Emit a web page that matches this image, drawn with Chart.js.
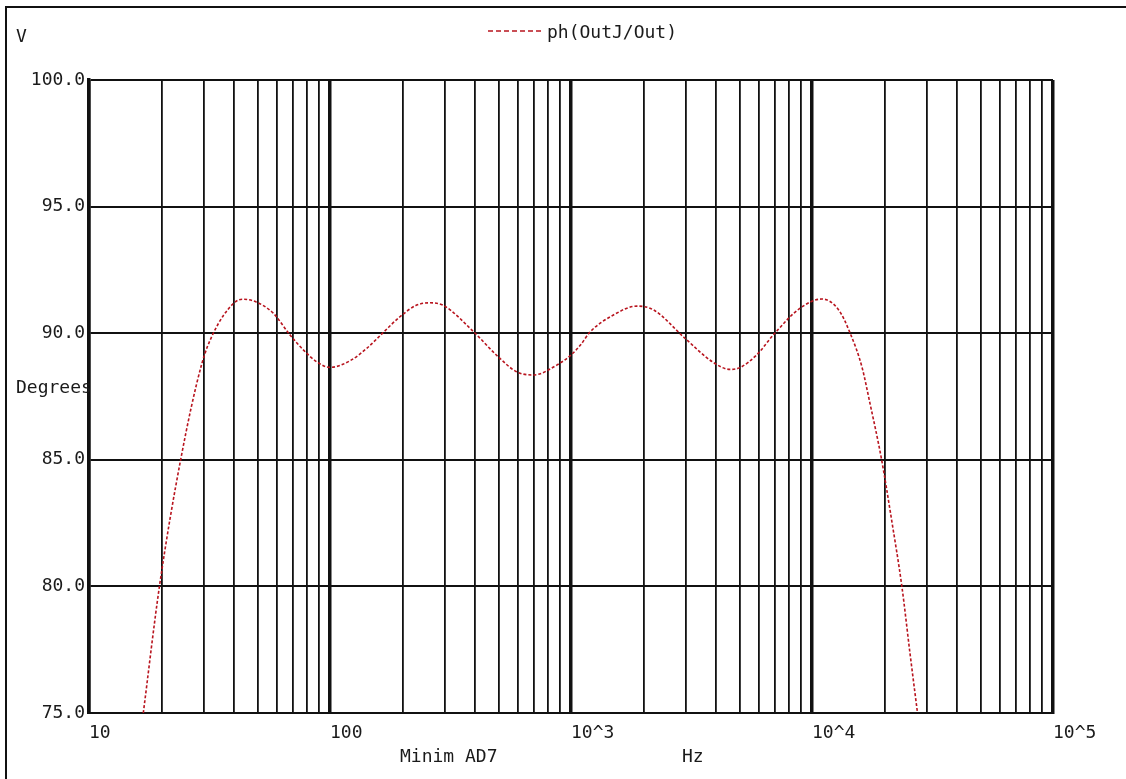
<!DOCTYPE html>
<html>
<head>
<meta charset="utf-8">
<title>ph(OutJ/Out)</title>
<script src="https://cdn.jsdelivr.net/npm/chart.js@4/dist/chart.umd.min.js"></script>
<style>
    html, body { margin: 0; padding: 0; background: #fff; }
    #wrap { width: 1126px; height: 779px; }
</style>
</head>
<body>
<div id="wrap"><canvas id="phaseChart" width="1126" height="779"></canvas></div>
<script>
// Phase of OutJ/Out (Hz, degrees)
const freqHz = [
    16.8, 19.6, 24.0, 29.4, 32.8, 40, 43.6, 48, 58, 68, 77.5, 88, 100,
    121, 142, 166, 195, 229, 260, 295, 395, 490, 594, 698, 873,
    1000, 1094, 1200, 1500, 1875, 2200, 2970, 3890, 4570, 5020, 5890, 7010, 8900,
    11000, 12900, 14400, 16100, 17400, 19450, 21400, 23600, 25500, 27400
];
const phaseDeg = [
    75.0, 80.0, 85.0, 88.8, 90.0, 91.2, 91.34, 91.28, 90.8, 89.95, 89.34, 88.87, 88.65,
    88.91, 89.4, 90.02, 90.65, 91.11, 91.2, 91.1, 90.05, 89.14, 88.48, 88.35, 88.74,
    89.14, 89.53, 90.05, 90.72, 91.07, 90.92, 89.8, 88.85, 88.57, 88.64, 89.14, 90.0, 90.98,
    91.35, 90.92, 90.0, 88.68, 87.23, 85.0, 82.62, 80.0, 77.36, 75.0
];

// x grid: 1..9 per decade, labels only on decades
const xGridValues = [
    10, 20, 30, 40, 50, 60, 70, 80, 90,
    100, 200, 300, 400, 500, 600, 700, 800, 900,
    1000, 2000, 3000, 4000, 5000, 6000, 7000, 8000, 9000,
    10000, 20000, 30000, 40000, 50000, 60000, 70000, 80000, 90000,
    100000
];
const xTickValues = [10, 100, 1000, 10000, 100000];
const xTickLabels = ['10', '100', '10^3', '10^4', '10^5'];
const yTickValues = [75, 80, 85, 90, 95, 100];

const seriesLabel = 'ph(OutJ/Out)';
const lineColor = '#b8141e';
const monoFont = "'DejaVu Sans Mono', 'Liberation Mono', monospace";

/**
 * Plain texts and frame that sit outside the axes.
 */
const probeDecor = {
    id: 'probeDecor',
    beforeDraw(chart) {
        const { ctx, width, height } = chart;
        ctx.save();
        ctx.fillStyle = '#fff';
        ctx.fillRect(0, 0, width, height);
        ctx.restore();
    },
    afterDraw(chart) {
        const { ctx } = chart;
        ctx.save();

        // outer frame (top and left)
        ctx.strokeStyle = '#111';
        ctx.lineWidth = 2;
        ctx.beginPath();
        ctx.moveTo(6, chart.height);
        ctx.lineTo(6, 7);
        ctx.lineTo(chart.width, 7);
        ctx.stroke();

        ctx.font = `18px ${monoFont}`;
        ctx.fillStyle = '#1a1a1a';
        ctx.textBaseline = 'middle';
        ctx.textAlign = 'left';
        ctx.fillText('V', 16, 37);
        ctx.fillText('Degrees', 16, 388);
        ctx.fillText('Minim AD7', 400, 757);
        ctx.fillText('Hz', 682, 757);

        // legend entry
        ctx.strokeStyle = lineColor;
        ctx.lineWidth = 1.5;
        ctx.setLineDash([5, 3]);
        ctx.beginPath();
        ctx.moveTo(488, 31);
        ctx.lineTo(542, 31);
        ctx.stroke();
        ctx.setLineDash([]);
        ctx.fillText(seriesLabel, 547, 33);

        ctx.restore();
    }
};

const isDecade = (v) => xTickValues.includes(v);

new Chart(document.getElementById('phaseChart'), {
    type: 'line',
    data: {
        datasets: [{
            label: seriesLabel,
            data: freqHz.map((f, i) => ({ x: f, y: phaseDeg[i] })),
            borderColor: lineColor,
            borderWidth: 1.6,
            borderDash: [3, 2],
            pointRadius: 0,
            cubicInterpolationMode: 'monotone',
            fill: false,
        }],
    },
    options: {
        responsive: false,
        animation: false,
        layout: { padding: { top: 80, right: 73, bottom: 0, left: 0 } },
        plugins: {
            legend: { display: false },
            tooltip: { enabled: false },
        },
        scales: {
            x: {
                type: 'logarithmic',
                min: 10,
                max: 100000,
                afterBuildTicks: (axis) => {
                    axis.ticks = xGridValues.map(v => ({ value: v }));
                },
                afterFit: (axis) => { axis.height = 66; },
                grid: {
                    color: '#111',
                    lineWidth: (ctx) => (ctx.tick && isDecade(ctx.tick.value) ? 3.5 : 1.8),
                    drawTicks: false,
                },
                border: { display: true, color: '#111', width: 2 },
                ticks: {
                    autoSkip: false,
                    maxRotation: 0,
                    align: 'start',
                    padding: 10,
                    color: '#1a1a1a',
                    font: { family: monoFont, size: 18 },
                    callback: (value) => {
                        const i = xTickValues.indexOf(value);
                        return i >= 0 ? xTickLabels[i] : '';
                    },
                },
            },
            y: {
                type: 'linear',
                min: 75,
                max: 100,
                afterBuildTicks: (axis) => {
                    axis.ticks = yTickValues.map(v => ({ value: v }));
                },
                afterFit: (axis) => { axis.width = 89; },
                grid: { color: '#111', lineWidth: 2, drawTicks: false },
                border: { display: true, color: '#111', width: 3.5 },
                ticks: {
                    padding: 4,
                    color: '#1a1a1a',
                    font: { family: monoFont, size: 18 },
                    callback: (value) => Number(value).toFixed(1),
                },
            },
        },
    },
    plugins: [probeDecor],
});
</script>
</body>
</html>
